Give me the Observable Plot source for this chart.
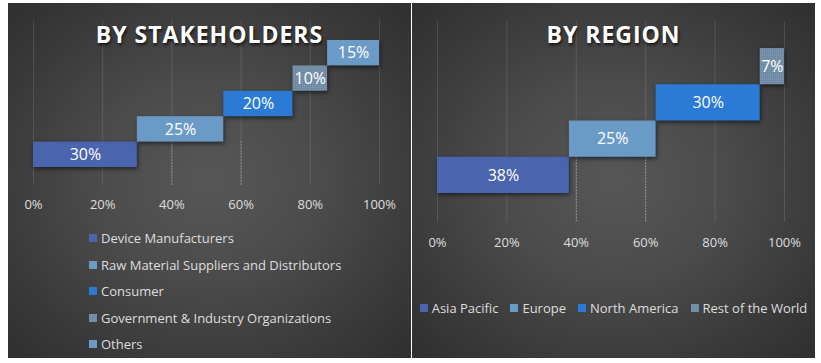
<!DOCTYPE html>
<html>
<head>
<meta charset="utf-8">
<script src="https://cdn.jsdelivr.net/npm/d3@7"></script>
<script src="https://cdn.jsdelivr.net/npm/@observablehq/plot@0.6"></script>
<style>
  html, body { margin: 0; padding: 0; background: #ffffff; }
  body { width: 821px; height: 363px; position: relative; overflow: hidden; font-family: "Open Sans", sans-serif; }
  .panel { position: absolute; top: 3px; width: 403px; height: 355px; overflow: hidden;
    background: radial-gradient(ellipse at 50% 50%, #575757 0%, #4b4b4b 40%, #3a3a3a 75%, #2f2f2f 100%); }
  .panel svg.plotsvg { position: absolute; left: 0; top: 0; }
  .title { position: absolute; left: 0; width: 100%; top: 19px; text-align: center; color: #fff;
    font: bold 23px/25px "Open Sans", sans-serif; letter-spacing: 1px; text-shadow: 1px 2px 3px rgba(0,0,0,0.7); }
  .legend { position: absolute; color: #dedede; font-size: 13px; }
  .legend .item { display: flex; align-items: center; white-space: nowrap; }
  .legend .sw { width: 8px; height: 8px; margin-right: 4px; flex: none; }
  #leg1 { left: 81px; top: 222px; }
  #leg1 .item { height: 26.5px; }
  #leg2 { left: 0; width: 100%; top: 295px; display: flex; justify-content: center; gap: 12px; }
  #leg2 .item { height: 20px; }
  g[aria-label="rect"] rect { filter: drop-shadow(1.5px 2.5px 2px rgba(0,0,0,0.55)); }
</style>
</head>
<body>
<svg width="0" height="0" style="position:absolute">
  <defs>
    <pattern id="dither" width="2" height="2" patternUnits="userSpaceOnUse">
      <rect width="2" height="2" fill="#6497c8"></rect>
      <rect x="0" y="0" width="1" height="1" fill="#8c8c8c"></rect>
      <rect x="1" y="1" width="1" height="1" fill="#7a7d80"></rect>
    </pattern>
  </defs>
</svg>
<div class="panel" id="p1" style="left:8px"><div class="title">BY STAKEHOLDERS</div><div class="legend" id="leg1"></div></div>
<div class="panel" id="p2" style="left:412px"><div class="title">BY REGION</div><div class="legend" id="leg2"></div></div>
<script>
const stakeCategories = ["Device Manufacturers", "Raw Material Suppliers and Distributors", "Consumer", "Government & Industry Organizations", "Others"];
const stakeValues = [30, 25, 20, 10, 15];
const stakeColors = ["#4a64ad", "#6a9bc7", "#2b7bd6", "url(#dither)", "#6a9bc7"];

const regionCategories = ["Asia Pacific", "Europe", "North America", "Rest of the World"];
const regionValues = [38, 25, 30, 7];
const regionColors = ["#4a64ad", "#6a9bc7", "#2b7bd6", "url(#dither)"];

const xTicks = [0, 20, 40, 60, 80, 100];
const dottedTicks = [40, 60];

function makeRows(cats, vals, cols) {
  const ends = Array.from(d3.cumsum(vals));
  return cats.map((c, i) => ({cat: c, value: vals[i], start: ends[i] - vals[i], end: ends[i], row: i, color: cols[i]}));
}

function chart(rows, o) {
  const svg = Plot.plot({
    width: o.width, height: o.height,
    marginLeft: o.marginLeft, marginRight: o.marginRight, marginTop: o.marginTop, marginBottom: o.marginBottom,
    style: {background: "transparent", color: "#dedede", fontFamily: "Open Sans, sans-serif", fontSize: "13px", overflow: "visible"},
    x: {domain: [0, 100], ticks: xTicks, tickFormat: d => d + "%", tickSize: 0, tickPadding: o.tickPadding, label: null},
    y: {domain: o.yDomain, axis: null},
    color: {type: "identity"},
    marks: [
      Plot.ruleX(xTicks, {stroke: "rgba(255,255,255,0.12)", strokeWidth: 1}),
      Plot.ruleX(dottedTicks, {y1: 1, y2: o.yDomain[0], stroke: "rgba(255,255,255,0.5)", strokeDasharray: "1,2", strokeWidth: 1}),
      Plot.rect(rows, {x1: "start", x2: "end", y1: "row", y2: d => d.row + 1, fill: "color"}),
      Plot.text(rows, {x: d => (d.start + d.end) / 2, y: d => d.row + 0.5, text: d => d.value + "%", fill: "#ffffff", fontSize: 16})
    ]
  });
  svg.classList.add("plotsvg");
  return svg;
}

function legend(el, cats, cols) {
  cats.forEach((c, i) => {
    const item = document.createElement("div");
    item.className = "item";
    item.innerHTML = `<svg class="sw" width="8" height="8"><rect width="8" height="8" fill="${cols[i]}"></rect></svg><span>${c}</span>`;
    el.appendChild(item);
  });
}

const p1 = document.getElementById("p1");
p1.insertBefore(chart(makeRows(stakeCategories, stakeValues, stakeColors), {
  width: 403, height: 215, marginLeft: 25, marginRight: 32, marginTop: 17, marginBottom: 33,
  yDomain: [-0.709, 5.787], tickPadding: 14
}), p1.firstChild);
legend(document.getElementById("leg1"), stakeCategories, stakeColors);

const p2 = document.getElementById("p2");
p2.insertBefore(chart(makeRows(regionCategories, regionValues, regionColors), {
  width: 403, height: 252, marginLeft: 25, marginRight: 31, marginTop: 18, marginBottom: 33,
  yDomain: [-0.8, 4.745], tickPadding: 15
}), p2.firstChild);
legend(document.getElementById("leg2"), regionCategories, regionColors);
</script>
</body>
</html>
